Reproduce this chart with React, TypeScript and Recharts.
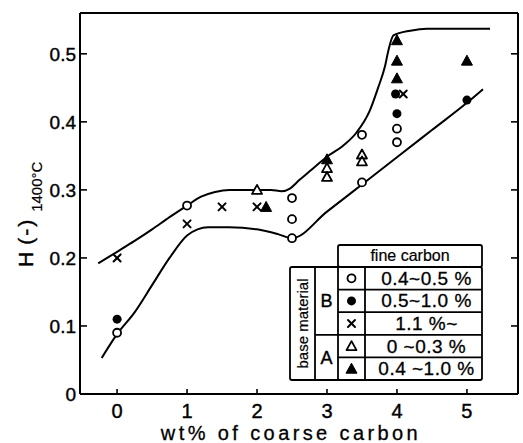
import React from "react";
import {
  ComposedChart,
  Line,
  Scatter,
  XAxis,
  YAxis,
  ReferenceLine,
} from "recharts";

// ---------- data ----------
const xTicks = [0, 1, 2, 3, 4, 5];
const yTicks = [0, 0.1, 0.2, 0.3, 0.4, 0.5];

const upperCurve = [
  { x: -0.27, y: 0.192 },
  { x: 0, y: 0.209 },
  { x: 0.25, y: 0.225 },
  { x: 0.5, y: 0.242 },
  { x: 0.75, y: 0.26 },
  { x: 1.0, y: 0.277 },
  { x: 1.2, y: 0.29 },
  { x: 1.4, y: 0.297 },
  { x: 1.6, y: 0.3 },
  { x: 2.0, y: 0.3 },
  { x: 2.2, y: 0.3 },
  { x: 2.35, y: 0.298 },
  { x: 2.47, y: 0.302 },
  { x: 2.6, y: 0.314 },
  { x: 2.76, y: 0.328 },
  { x: 2.99, y: 0.348 },
  { x: 3.23, y: 0.365 },
  { x: 3.42, y: 0.384 },
  { x: 3.61, y: 0.416 },
  { x: 3.73, y: 0.45 },
  { x: 3.83, y: 0.482 },
  { x: 3.88, y: 0.506 },
  { x: 3.95, y: 0.527 },
  { x: 4.19, y: 0.534 },
  { x: 4.43, y: 0.537 },
  { x: 5.33, y: 0.537 },
];

const lowerCurve = [
  { x: -0.22, y: 0.053 },
  { x: 0, y: 0.088 },
  { x: 0.25, y: 0.12 },
  { x: 0.5, y: 0.16 },
  { x: 0.75, y: 0.2 },
  { x: 1.0, y: 0.233 },
  { x: 1.15, y: 0.242 },
  { x: 1.3, y: 0.245 },
  { x: 1.6, y: 0.245 },
  { x: 2.0, y: 0.242 },
  { x: 2.3, y: 0.235 },
  { x: 2.5, y: 0.229 },
  { x: 3.0, y: 0.268 },
  { x: 3.5, y: 0.308 },
  { x: 4.0, y: 0.348 },
  { x: 4.5, y: 0.388 },
  { x: 5.0, y: 0.428 },
  { x: 5.23, y: 0.448 },
];

// B: 0.4~0.5 %
const openCircles = [
  { x: 0, y: 0.09 },
  { x: 1, y: 0.277 },
  { x: 2.5, y: 0.288 },
  { x: 2.5, y: 0.257 },
  { x: 2.5, y: 0.229 },
  { x: 3.5, y: 0.381 },
  { x: 3.5, y: 0.311 },
  { x: 4, y: 0.39 },
  { x: 4, y: 0.37 },
];
// B: 0.5~1.0 %
const filledCircles = [
  { x: 0, y: 0.11 },
  { x: 3.98, y: 0.441 },
  { x: 4, y: 0.412 },
  { x: 5, y: 0.432 },
];
// B: 1.1 %~
const crosses = [
  { x: 0, y: 0.2 },
  { x: 1, y: 0.25 },
  { x: 1.5, y: 0.275 },
  { x: 2, y: 0.275 },
  { x: 4.09, y: 0.441 },
];
// A: 0 ~0.3 %
const openTriangles = [
  { x: 2, y: 0.3 },
  { x: 3, y: 0.332 },
  { x: 3, y: 0.319 },
  { x: 3.5, y: 0.352 },
  { x: 3.5, y: 0.342 },
];
// A: 0.4 ~1.0 %
const filledTriangles = [
  { x: 2.13, y: 0.275 },
  { x: 3, y: 0.345 },
  { x: 4, y: 0.52 },
  { x: 4, y: 0.49 },
  { x: 4, y: 0.464 },
  { x: 5, y: 0.49 },
];

const legendKinds = ["oc", "fc", "x", "ot", "ft"];
const legendLabels = ["0.4~0.5 %", "0.5~1.0 %", "1.1 %~", "0 ~0.3 %", "0.4 ~1.0 %"];
const legendGroups = ["B", "A"];

// ---------- layout ----------
const W = 523;
const H = 443;
const X_MIN = -0.53;
const X_MAX = 5.73;
const Y_MAX = 0.56;
const Y_AXIS_W = 80;
const X_AXIS_H = 49;
const MARGIN = { top: 13, right: 5, left: 0, bottom: 0 };
const PLOT_W = W - MARGIN.right - MARGIN.left - Y_AXIS_W;
const FONT = "'Liberation Sans', Arial, sans-serif";

function Marker({ cx, cy, kind }: { cx: number; cy: number; kind: string }) {
  if (cx == null || cy == null) return null;
  switch (kind) {
    case "oc":
      return <circle cx={cx} cy={cy} r={4} fill="#fff" stroke="#000" strokeWidth={1.8} />;
    case "fc":
      return <circle cx={cx} cy={cy} r={4.5} fill="#000" />;
    case "x":
      return (
        <g stroke="#000" strokeWidth={2} strokeLinecap="round">
          <line x1={cx - 3.5} y1={cy - 3.5} x2={cx + 3.5} y2={cy + 3.5} />
          <line x1={cx - 3.5} y1={cy + 3.5} x2={cx + 3.5} y2={cy - 3.5} />
        </g>
      );
    case "ot":
      return (
        <polygon
          points={`${cx},${cy - 5} ${cx + 5},${cy + 4} ${cx - 5},${cy + 4}`}
          fill="#fff"
          stroke="#000"
          strokeWidth={1.8}
          strokeLinejoin="round"
        />
      );
    case "ft":
      return (
        <polygon
          points={`${cx},${cy - 5.5} ${cx + 5.5},${cy + 4.5} ${cx - 5.5},${cy + 4.5}`}
          fill="#000"
          stroke="#000"
          strokeWidth={1}
          strokeLinejoin="round"
        />
      );
    default:
      return null;
  }
}

const shapeOf = (kind: string) => (p: any) => <Marker cx={p.cx} cy={p.cy} kind={kind} />;

function YTick(props: any) {
  const { x, y, payload } = props;
  const v = payload.value as number;
  const label = v === 0 ? "0" : v.toFixed(1);
  return (
    <g>
      <line x1={x} y1={y} x2={x + 7} y2={y} stroke="#000" strokeWidth={1.6} />
      <line x1={x + PLOT_W - 7} y1={y} x2={x + PLOT_W} y2={y} stroke="#000" strokeWidth={1.6} />
      <text x={x - 4} y={y + 7} textAnchor="end" fontSize={19} fontFamily={FONT} fill="#000" stroke="#000" strokeWidth={0.4}>
        {label}
      </text>
    </g>
  );
}

function XTick(props: any) {
  const { x, y, payload } = props;
  return (
    <g>
      <line x1={x} y1={y} x2={x} y2={y - 5} stroke="#000" strokeWidth={1.6} />
      <text x={x} y={y + 24} textAnchor="middle" fontSize={20} fontFamily={FONT} fill="#000" stroke="#000" strokeWidth={0.4}>
        {String(payload.value)}
      </text>
    </g>
  );
}

function LegendTable() {
  const left = 290;
  const c1 = 315;
  const c2 = 338;
  const c3 = 365;
  const right = 482;
  const top = 267;
  const bottom = 380;
  const rowH = (bottom - top) / legendLabels.length;
  const headTop = 245;
  const sw = 1.8;
  return (
    <g fontFamily={FONT} fill="#000">
      {/* header */}
      <rect x={c2} y={headTop} width={right - c2} height={top - headTop} fill="#fff" stroke="#000" strokeWidth={sw} rx={2} />
      <text x={(c2 + right) / 2} y={headTop + 16} textAnchor="middle" fontSize={16} stroke="#000" strokeWidth={0.2}>
        fine carbon
      </text>
      {/* body */}
      <rect x={left} y={top} width={right - left} height={bottom - top} fill="#fff" stroke="#000" strokeWidth={sw} rx={2} />
      <line x1={c1} y1={top} x2={c1} y2={bottom} stroke="#000" strokeWidth={sw} />
      <line x1={c2} y1={top} x2={c2} y2={bottom} stroke="#000" strokeWidth={sw} />
      <line x1={c3} y1={top} x2={c3} y2={bottom} stroke="#000" strokeWidth={sw} />
      {legendLabels.slice(1).map((_, i) => {
        const yy = top + rowH * (i + 1);
        const x1 = i + 1 === 3 ? c1 : c2;
        return <line key={i} x1={x1} y1={yy} x2={right} y2={yy} stroke="#000" strokeWidth={sw} />;
      })}
      <text
        transform={`translate(${left + 18}, ${(top + bottom) / 2}) rotate(-90)`}
        textAnchor="middle"
        fontSize={15}
        stroke="#000"
        strokeWidth={0.2}
      >
        base material
      </text>
      <text x={(c1 + c2) / 2} y={top + rowH * 1.5 + 6.5} textAnchor="middle" fontSize={18} stroke="#000" strokeWidth={0.4}>
        {legendGroups[0]}
      </text>
      <text x={(c1 + c2) / 2} y={top + rowH * 4 + 6.5} textAnchor="middle" fontSize={18} stroke="#000" strokeWidth={0.4}>
        {legendGroups[1]}
      </text>
      {legendKinds.map((k, i) => (
        <Marker key={k} kind={k} cx={(c2 + c3) / 2} cy={top + rowH * (i + 0.5)} />
      ))}
      {legendLabels.map((t, i) => (
        <text
          key={t}
          x={(c3 + right) / 2 + 3}
          y={top + rowH * (i + 0.5) + 6.5}
          textAnchor="middle"
          fontSize={19}
          letterSpacing={0.5}
          stroke="#000"
          strokeWidth={0.3}
        >
          {t}
        </text>
      ))}
    </g>
  );
}

export default function App() {
  return (
    <div style={{ position: "absolute", left: 0, top: 0, width: W, height: H, background: "#fff" }}>
      <ComposedChart width={W} height={H} margin={MARGIN}>
        <XAxis
          type="number"
          dataKey="x"
          domain={[X_MIN, X_MAX]}
          allowDataOverflow
          ticks={xTicks}
          tick={<XTick />}
          tickSize={0}
          tickMargin={0}
          tickLine={false}
          height={X_AXIS_H}
          axisLine={{ stroke: "#000", strokeWidth: 2 }}
          interval={0}
        />
        <YAxis
          type="number"
          dataKey="y"
          domain={[0, Y_MAX]}
          allowDataOverflow
          ticks={yTicks}
          tick={<YTick />}
          tickSize={0}
          tickMargin={0}
          tickLine={false}
          width={Y_AXIS_W}
          axisLine={{ stroke: "#000", strokeWidth: 2 }}
          interval={0}
        />
        <ReferenceLine y={Y_MAX} stroke="#000" strokeWidth={2} />
        <ReferenceLine x={X_MAX} stroke="#000" strokeWidth={2} />
        <Line data={upperCurve} dataKey="y" type="monotone" stroke="#000" strokeWidth={2} dot={false} isAnimationActive={false} />
        <Line data={lowerCurve} dataKey="y" type="monotone" stroke="#000" strokeWidth={2} dot={false} isAnimationActive={false} />
        <Scatter data={openCircles} dataKey="y" shape={shapeOf("oc")} isAnimationActive={false} />
        <Scatter data={filledCircles} dataKey="y" shape={shapeOf("fc")} isAnimationActive={false} />
        <Scatter data={crosses} dataKey="y" shape={shapeOf("x")} isAnimationActive={false} />
        <Scatter data={openTriangles} dataKey="y" shape={shapeOf("ot")} isAnimationActive={false} />
        <Scatter data={filledTriangles} dataKey="y" shape={shapeOf("ft")} isAnimationActive={false} />
      </ComposedChart>
      <svg width={W} height={H} style={{ position: "absolute", left: 0, top: 0, pointerEvents: "none" }}>
        <LegendTable />
        <text transform="translate(33, 267) rotate(-90)" fontFamily={FONT} fontSize={21} fill="#000" stroke="#000" strokeWidth={0.4}>
          H
          <tspan dx={7} letterSpacing={2}>(-)</tspan>
          <tspan dx={6} dy={9} fontSize={15} strokeWidth={0.2}>1400°C</tspan>
        </text>
        <text x={291} y={440} textAnchor="middle" fontFamily={FONT} fontSize={20} letterSpacing={3.4} fill="#000" stroke="#000" strokeWidth={0.3}>
          wt% of coarse carbon
        </text>
      </svg>
    </div>
  );
}
